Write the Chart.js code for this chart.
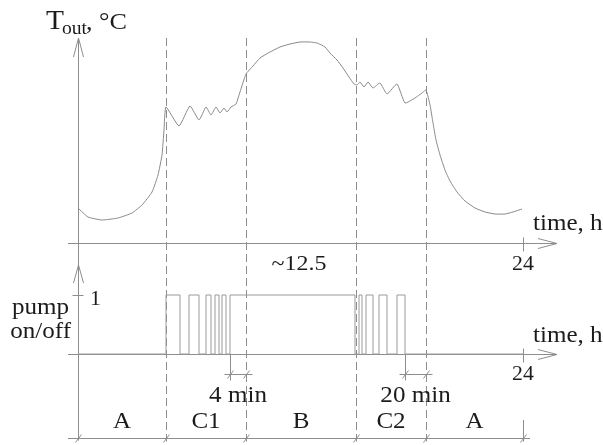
<!DOCTYPE html>
<html>
<head>
<meta charset="utf-8">
<script src="https://cdn.jsdelivr.net/npm/chart.js@4.4.1/dist/chart.umd.min.js"></script>
<style>
  html,body{margin:0;padding:0;background:#fff;}
  #wrap{width:603px;height:445px;position:relative;}
</style>
</head>
<body>
<div id="wrap"><canvas id="c" width="603" height="445"></canvas></div>
<script>
// ---- data (time in hours, temperature in arbitrary units) ----
const tempHours = [0,0.539,1.294,2.157,2.912,3.452,3.991,4.315,4.530,4.638,4.746,
  5.447,6.040,6.526,6.903,7.173,7.443,7.658,7.874,8.036,8.252,8.521,8.737,9.061,
  9.438,9.816,10.355,10.894,11.434,11.973,12.512,12.890,13.321,13.591,13.968,14.292,14.616,14.886,15.047,
  15.209,15.425,15.641,15.910,16.288,16.665,17.204,17.636,18.175,18.553,18.769,
  18.985,19.146,19.308,19.524,19.793,20.063,20.441,20.872,21.411,21.950,22.490,23.029,23.461,23.946];
const tempVals = [17.5,13,11.5,12.5,15,19,25.5,34,44,56.5,68,
  58.5,68.5,61.5,68,64,68,65,67.5,65.5,68,69.5,75.5,84.5,
  88.5,92.5,95.5,98,99.5,100.5,100.5,100,98,95,91.5,87.5,83,79.5,79,
  80.5,78,80.5,77.5,80,74.5,79.5,70,72.5,75,76.5,
  69,60,51.5,44,36.5,31,25.5,21,17.5,15.5,14.5,14.5,15.5,17];
const pumpHours = [0,4.746,5.501,5.986,6.526,6.903,7.173,7.389,7.605,7.766,7.982,8.198,
  14.939,15.155,15.317,15.533,15.910,16.234,16.665,17.204,17.636,24];
const pumpStates = [0,1,0,1,0,1,0,1,0,1,0,1,
  0,1,0,1,0,1,0,1,0,0];
const phaseBounds = [0,4.746,9.061,14.993,18.769,24];
const phaseLabels = ['A','C1','B','C2','A'];
const xTickLabel = '24';
const peakLabel = '~12.5';
const peakHour = 11.92;
const dimLabels = [{from:8.198,to:9.061,text:'4 min'},{from:17.636,to:18.769,text:'20 min'}];

const LINE = '#8d8d8d';
const TEXT = '#1b1b1b';
const SERIF = '"Liberation Serif","DejaVu Serif",serif';
const HS = 1.09;

function txt(ctx, s, x, y, size, align){
  ctx.save();
  ctx.font = size + 'px ' + SERIF;
  ctx.fillStyle = TEXT;
  ctx.textBaseline = 'alphabetic';
  ctx.translate(x, y);
  ctx.scale(HS, 1);
  ctx.textAlign = align || 'left';
  ctx.fillText(s, 0, 0);
  ctx.restore();
}
function seg(ctx, x1, y1, x2, y2){
  ctx.beginPath(); ctx.moveTo(x1, y1); ctx.lineTo(x2, y2); ctx.stroke();
}
function slash(ctx, x, y){ seg(ctx, x-3, y+4, x+3, y-4); }

const decor = {
  id:'decor',
  beforeDatasetsDraw(chart){
    const ctx = chart.ctx;
    const X = chart.scales.x, YT = chart.scales.yT, YP = chart.scales.yP;
    const px = h => Math.round(X.getPixelForValue(h)) + 0.5;
    const x0 = px(0), x24 = px(24);
    const yA = Math.round(YT.getPixelForValue(0)) + 0.5;
    const yP0 = Math.round(YP.getPixelForValue(0)) + 0.5;
    const yP1 = Math.round(YP.getPixelForValue(1)) + 0.5;
    const yRow = 438.5, yDim = 374.5;
    ctx.save();
    ctx.strokeStyle = LINE; ctx.lineWidth = 1;
    // vertical axis line (through both panels)
    seg(ctx, x0, 38, x0, yRow + 2);
    // arrowheads
    ctx.beginPath(); ctx.moveTo(x0-5, 57); ctx.lineTo(x0, 38); ctx.lineTo(x0+5, 57); ctx.stroke();
    ctx.beginPath(); ctx.moveTo(x0-5, 283); ctx.lineTo(x0, 265); ctx.lineTo(x0+5, 283); ctx.stroke();
    // horizontal axes
    [yA, yP0].forEach(y => {
      seg(ctx, 68, y, 557, y);
      ctx.beginPath(); ctx.moveTo(538, y-5); ctx.lineTo(557, y); ctx.lineTo(538, y+5); ctx.stroke();
      seg(ctx, x24, y-6, x24, y+8);
    });
    // level 1 tick
    seg(ctx, x0-6, yP1, x0+5, yP1);
    // phase dashed lines
    ctx.setLineDash([8,4]);
    for (let i = 1; i < phaseBounds.length-1; i++){
      const x = px(phaseBounds[i]);
      seg(ctx, x, 38, x, yRow + 3);
    }
    ctx.setLineDash([]);
    // bottom row
    seg(ctx, 68, yRow, 530, yRow);
    seg(ctx, x24, 420, x24, yRow + 3);
    phaseBounds.forEach(b => slash(ctx, px(b), yRow));
    // dimension markers
    dimLabels.forEach(d => {
      const a = px(d.from), b = px(d.to);
      seg(ctx, a, yP0, a, yDim + 6);
      seg(ctx, a-6, yDim, b+6, yDim);
      slash(ctx, a, yDim); slash(ctx, b, yDim);
    });
    ctx.restore();
  },
  afterDraw(chart){
    const ctx = chart.ctx;
    const X = chart.scales.x, YT = chart.scales.yT, YP = chart.scales.yP;
    const px = h => X.getPixelForValue(h);
    const yA = YT.getPixelForValue(0);
    const yP0 = YP.getPixelForValue(0);
    const yP1 = YP.getPixelForValue(1);
    // title
    txt(ctx, 'T', 46, 29, 27, 'left');
    txt(ctx, 'out', 62, 34, 18, 'left');
    txt(ctx, ', °C', 86, 29, 24, 'left');
    // axis labels
    txt(ctx, 'time, h', 533, yA - 13, 23, 'left');
    txt(ctx, 'time, h', 533, yP0 - 12, 23, 'left');
    txt(ctx, xTickLabel, px(24), yA + 27, 20, 'center');
    txt(ctx, xTickLabel, px(24), yP0 + 26, 20, 'center');
    txt(ctx, peakLabel, px(peakHour), yA + 27, 22, 'center');
    txt(ctx, '1', 90, yP1 + 10, 20, 'left');
    txt(ctx, 'pump', 69, 314, 23, 'right');
    txt(ctx, 'on/off', 71, 338, 23, 'right');
    dimLabels.forEach(d => {
      txt(ctx, d.text, (px(d.from)+px(d.to))/2, 402, 23, 'center');
    });
    for (let i = 0; i < phaseLabels.length; i++){
      txt(ctx, phaseLabels[i], (px(phaseBounds[i])+px(phaseBounds[i+1]))/2, 428, 23, 'center');
    }
  }
};

new Chart(document.getElementById('c'), {
  type: 'scatter',
  data: {
    datasets: [
      {
        data: tempHours.map((h,i)=>({x:h, y:tempVals[i]})),
        yAxisID: 'yT', showLine: true, borderColor: '#8a8a8a', borderWidth: 1,
        pointRadius: 0, tension: 0.15, fill: false
      },
      {
        data: pumpHours.map((h,i)=>({x:h, y:pumpStates[i]})),
        yAxisID: 'yP', showLine: true, stepped: true, borderColor: '#9a9a9a', borderWidth: 1,
        pointRadius: 0, fill: false
      }
    ]
  },
  options: {
    responsive: false, animation: false, devicePixelRatio: 1,
    layout: { padding: 0 },
    plugins: { legend: {display:false}, tooltip: {enabled:false}, title:{display:false} },
    scales: {
      x: { type:'linear', min:-4.2067, max:28.314, display:false },
      yT: { type:'linear', min:-101, max:121.5, display:false },
      yP: { type:'linear', min:-1.542, max:6.0, display:false }
    }
  },
  plugins: [decor]
});
</script>
</body>
</html>
